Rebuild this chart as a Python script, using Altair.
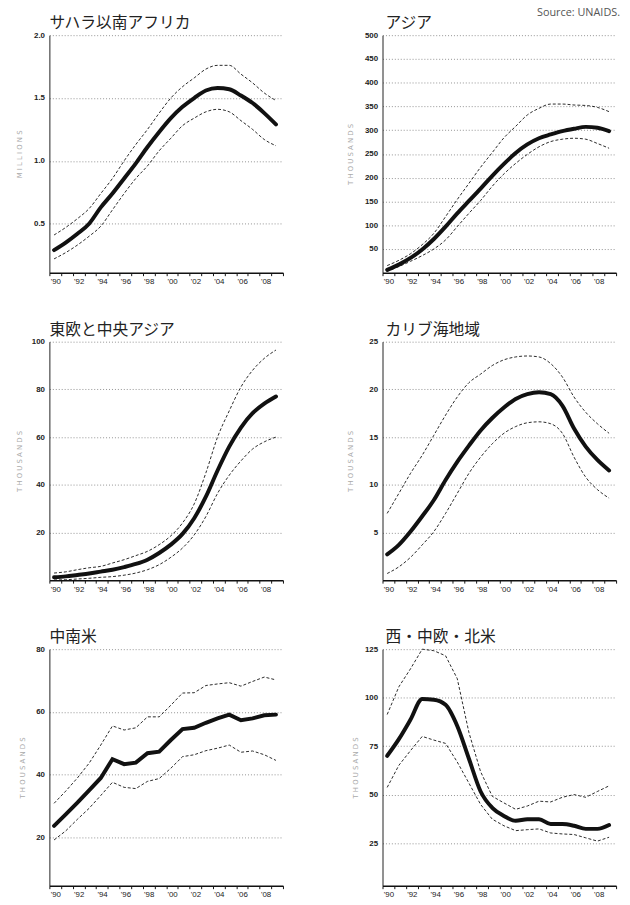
import altair as alt
import pandas as pd

years = list(range(1990, 2010))

# Sub-Saharan Africa (millions)
ssa_mid = [0.29, 0.35, 0.42, 0.50, 0.63, 0.74, 0.86, 0.98, 1.11, 1.23, 1.34, 1.43, 1.50, 1.56, 1.58, 1.57, 1.52, 1.46, 1.38, 1.29]
ssa_hi = [0.41, 0.47, 0.54, 0.62, 0.74, 0.86, 1.00, 1.13, 1.25, 1.38, 1.50, 1.59, 1.66, 1.73, 1.76, 1.76, 1.69, 1.62, 1.54, 1.48]
ssa_lo = [0.22, 0.27, 0.33, 0.40, 0.48, 0.61, 0.74, 0.86, 0.96, 1.08, 1.18, 1.28, 1.34, 1.39, 1.41, 1.39, 1.32, 1.25, 1.17, 1.12]

# Asia (thousands)
asia_mid = [6, 17, 31, 49, 71, 97, 125, 151, 177, 204, 229, 252, 270, 283, 291, 298, 303, 307, 305, 298]
asia_hi = [15, 26, 40, 59, 83, 118, 154, 188, 222, 253, 284, 308, 332, 346, 355, 355, 353, 352, 348, 339]
asia_lo = [3, 13, 24, 36, 50, 69, 97, 125, 152, 182, 208, 230, 249, 265, 276, 281, 283, 281, 272, 262]

# Eastern Europe & Central Asia (thousands)
eeca_mid = [1.2, 1.6, 2.2, 2.8, 3.6, 4.4, 5.5, 6.8, 8.6, 11.4, 14.9, 19.4, 26, 35, 46, 56, 64, 70, 74, 77]
eeca_hi = [3.0, 3.5, 4.4, 5.2, 5.8, 7.2, 8.6, 10.3, 12.1, 14.9, 18.6, 24, 32, 45, 60, 71, 81, 88, 93, 96.5]
eeca_lo = [0.1, 0.2, 0.5, 0.8, 1.2, 1.5, 2.1, 3.0, 4.4, 6.5, 9.6, 13.5, 19, 26.7, 36.4, 44, 50, 55, 58, 60]

# Caribbean (thousands)
car_mid = [2.7, 3.7, 5.1, 6.7, 8.4, 10.5, 12.4, 14.1, 15.7, 17.0, 18.1, 19.0, 19.5, 19.7, 19.5, 18.3, 15.9, 14.0, 12.6, 11.5]
car_hi = [7.0, 9.1, 11.2, 13.1, 15.2, 17.3, 19.2, 20.7, 21.6, 22.5, 23.1, 23.4, 23.5, 23.4, 22.7, 21.3, 19.2, 17.6, 16.4, 15.4]
car_lo = [0.7, 1.4, 2.4, 3.7, 5.1, 7.0, 9.1, 11.2, 12.9, 14.3, 15.4, 16.1, 16.5, 16.6, 16.4, 15.4, 12.9, 10.8, 9.5, 8.6]

# Latin America (thousands)
lat_mid = [23.6, 27.3, 31.0, 34.9, 38.9, 44.9, 43.3, 43.8, 46.8, 47.3, 51.0, 54.5, 54.9, 56.5, 57.9, 59.1, 57.3, 57.9, 58.9, 59.1]
lat_hi = [30.8, 34.7, 38.9, 43.6, 49.4, 55.5, 54.2, 54.9, 58.4, 58.4, 62.1, 66.0, 66.1, 68.4, 68.9, 69.3, 68.2, 69.7, 71.1, 70.2]
lat_lo = [19.1, 22.0, 25.7, 29.2, 33.3, 37.5, 35.9, 35.5, 37.8, 38.7, 42.0, 45.7, 46.3, 47.6, 48.4, 49.4, 47.1, 47.5, 46.3, 44.5]

# Western & Central Europe, North America (thousands)
wce_mid = [70, 78.6, 88.7, 99.3, 98.9, 96.3, 85.4, 68.5, 51.6, 43.2, 39.0, 36.5, 37.3, 37.3, 34.8, 34.8, 33.9, 32.3, 32.3, 34.3]
wce_hi = [91.3, 105.6, 114.9, 125.0, 124.2, 121.6, 109.8, 82.0, 61.8, 49.1, 45.7, 42.4, 44.1, 46.6, 46.2, 48.6, 50.0, 48.6, 51.6, 54.5]
wce_lo = [53.7, 65.1, 72.7, 80.0, 78.1, 76.4, 66.8, 55.9, 44.9, 37.3, 33.9, 31.4, 31.9, 32.3, 30.2, 29.7, 29.4, 27.7, 26.0, 28.0]

titles = ["サハラ以南アフリカ", "アジア", "東欧と中央アジア", "カリブ海地域", "中南米", "西・中欧・北米"]
units = ["M I L L I O N S", "T H O U S A N D S", "T H O U S A N D S", "T H O U S A N D S", "T H O U S A N D S", "T H O U S A N D S"]
domains = [[0.11, 2.0], [0, 500], [0, 100], [0, 25], [4.5, 80], [3, 125]]
tick_values = [
    [0.5, 1.0, 1.5, 2.0],
    [50, 100, 150, 200, 250, 300, 350, 400, 450, 500],
    [20, 40, 60, 80, 100],
    [5, 10, 15, 20, 25],
    [20, 40, 60, 80],
    [25, 50, 75, 100, 125],
]
source_text = "Source: UNAIDS."

series_data = [
    (ssa_mid, ssa_hi, ssa_lo),
    (asia_mid, asia_hi, asia_lo),
    (eeca_mid, eeca_hi, eeca_lo),
    (car_mid, car_hi, car_lo),
    (lat_mid, lat_hi, lat_lo),
    (wce_mid, wce_hi, wce_lo),
]

fmts = [".1f", "d", "d", "d", "d", "d"]
title_x = [-30, -32, -30, -32, -27, -27]
heights = [241, 241, 242, 242, 240, 240]
head_x = [0, 3, 0, 3, 0, 3]
mid_interp = ["monotone", "monotone", "monotone", "monotone", "linear", "monotone"]
band_interp = ["monotone", "monotone", "monotone", "monotone", "linear", "linear"]
W = 237

label_expr = "datum.value % 2 == 0 && datum.value < 2010 ? \"'\" + format(datum.value % 100, '02d') : ''"


def make_panel(i, with_source=False):
    mid, hi, lo = series_data[i]
    rows = []
    for name, vals in (("mid", mid), ("hi", hi), ("lo", lo)):
        for yr, v in zip(years, vals):
            rows.append({"year": yr, "value": v, "series": name})
    df = pd.DataFrame(rows)
    base = alt.Chart(df).transform_calculate(xpos="datum.year + 0.4")
    x = alt.X(
        "xpos:Q",
        scale=alt.Scale(domain=[1990, 2010], nice=False, zero=False),
        axis=alt.Axis(
            values=list(range(1990, 2011)),
            labelExpr=label_expr,
            labelOffset=6,
            labelFlush=False,
            labelOverlap=False,
            labelFontSize=8,
            labelColor="#222",
            labelFont="Liberation Sans",
            labelPadding=2,
            tickSize=3,
            tickColor="#111",
            tickWidth=1,
            domainColor="#111",
            domainWidth=1.5,
            grid=False,
            title=None,
        ),
    )
    y = alt.Y(
        "value:Q",
        scale=alt.Scale(domain=domains[i], nice=False, zero=False),
        axis=alt.Axis(
            values=tick_values[i],
            format=fmts[i],
            labelFontSize=8,
            labelFontWeight="bold",
            labelColor="#222",
            labelFont="Liberation Sans",
            labelPadding=5,
            ticks=False,
            domainColor="#222",
            domainWidth=1,
            grid=True,
            gridDash=[1, 2],
            gridColor="#777",
            gridWidth=0.8,
            title=units[i],
            titleX=title_x[i],
            titleBaseline="middle",
            titleFontSize=7,
            titleFontWeight="normal",
            titleColor="#aaa",
            titleFont="DejaVu Sans",
        ),
    )
    bands = base.transform_filter("datum.series != 'mid'").mark_line(
        color="#111", strokeWidth=0.9, strokeDash=[3, 2], interpolate=band_interp[i]
    ).encode(x=x, y=y, detail="series:N")
    center = base.transform_filter("datum.series == 'mid'").mark_line(
        color="#111", strokeWidth=4, strokeCap="round", interpolate=mid_interp[i]
    ).encode(x=x, y=y)
    head = alt.Chart(pd.DataFrame({"t": [titles[i]]})).mark_text(
        align="left", baseline="alphabetic", fontSize=16, font="Noto Sans CJK JP",
        color="#222",
    ).encode(text="t:N", x=alt.value(head_x[i]), y=alt.value(-7))
    layers = [bands, center, head]
    if with_source:
        src = alt.Chart(pd.DataFrame({"t": [source_text]})).mark_text(
            align="right", baseline="top", fontSize=11, color="#555", font="Open Sans"
        ).encode(text="t:N", x=alt.value(241), y=alt.value(-28))
        layers.append(src)
    return alt.layer(*layers).properties(width=W, height=heights[i])


row1 = alt.hconcat(make_panel(0), make_panel(1, True), spacing=59)
row2 = alt.hconcat(make_panel(2), make_panel(3), spacing=59)
row3 = alt.hconcat(make_panel(4), make_panel(5), spacing=64)

chart = alt.vconcat(row1, row2, row3, spacing=37).properties(
    padding={"left": 8, "top": -7, "right": 0, "bottom": 0}
).configure_view(stroke=None)

chart.save("out.html", embed_options={"renderer": "svg", "actions": False})
